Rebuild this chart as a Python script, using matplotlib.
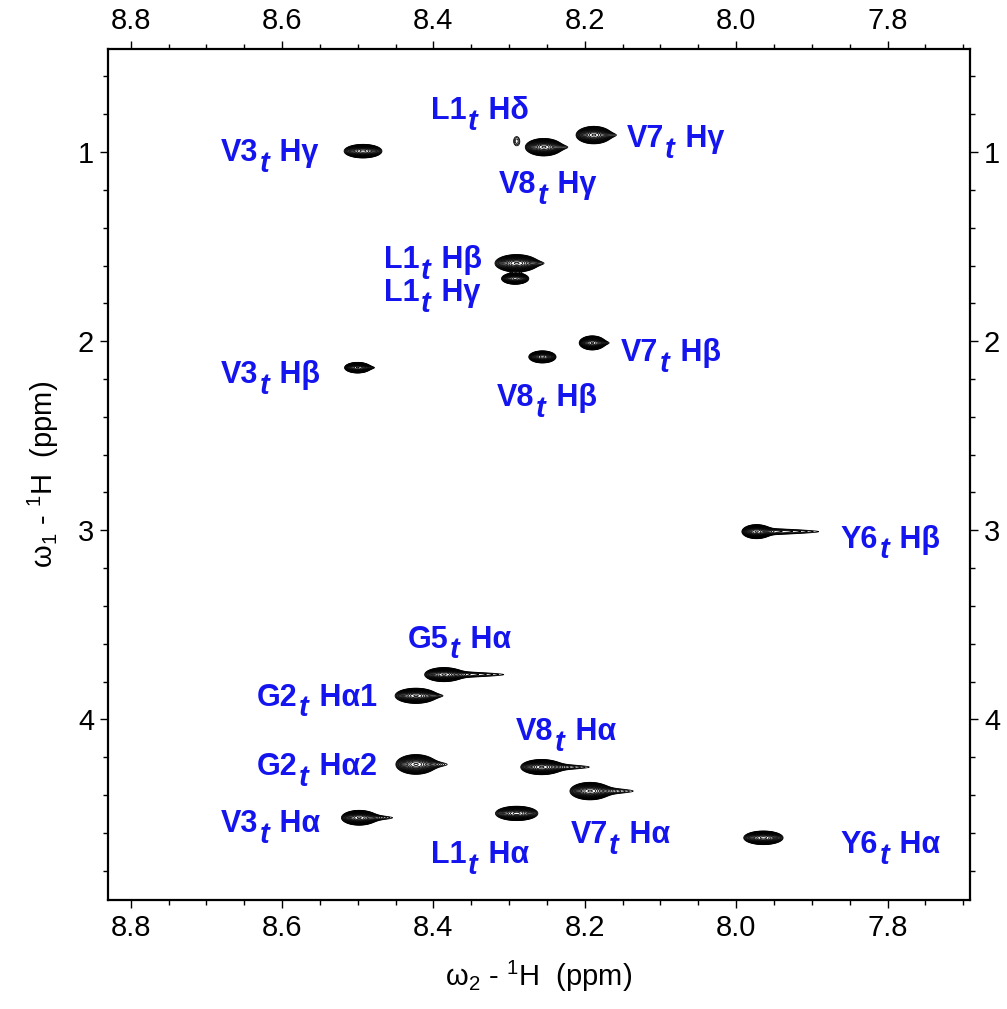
import numpy as np
import matplotlib.pyplot as plt
from matplotlib.ticker import MultipleLocator

plt.rcParams['font.family'] = ['Liberation Sans', 'DejaVu Sans']
plt.rcParams['mathtext.fontset'] = 'custom'
plt.rcParams['mathtext.rm'] = 'Liberation Sans'
plt.rcParams['mathtext.it'] = 'Liberation Sans:italic'
plt.rcParams['mathtext.bf'] = 'Liberation Sans:bold'

# peak list (TOCSY strip, amide region)
residue = ['V3', 'L1', 'V8', 'V7', 'L1', 'L1', 'V7', 'V8', 'V3', 'Y6',
           'G5', 'G2', 'G2', 'V8', 'V7', 'V3', 'L1', 'Y6']
atom = ['Hγ', 'Hδ', 'Hγ', 'Hγ', 'Hβ', 'Hγ', 'Hβ', 'Hβ', 'Hβ', 'Hβ',
        'Hα', 'Hα1', 'Hα2', 'Hα', 'Hα', 'Hα', 'Hα', 'Hα']
w2_ppm = [8.493, 8.290, 8.254, 8.188, 8.290, 8.292, 8.190, 8.256, 8.500, 7.973,
          8.386, 8.423, 8.423, 8.257, 8.193, 8.498, 8.290, 7.964]
w1_ppm = [0.995, 0.942, 0.974, 0.910, 1.588, 1.669, 2.009, 2.083, 2.140, 3.007,
          3.763, 3.875, 4.238, 4.252, 4.379, 4.520, 4.497, 4.626]
intensity = [1.0, 0.08, 1.0, 1.0, 1.0, 1.0, 1.0, 1.0, 1.0, 1.0,
             1.0, 1.0, 1.0, 1.0, 1.0, 1.0, 1.0, 1.0]
# half widths (ppm) of the lowest contour: core in w2, tail toward low w2, width in w1
core_w2 = [0.025, 0.004, 0.024, 0.023, 0.028, 0.018, 0.017, 0.018, 0.017, 0.019,
           0.025, 0.027, 0.026, 0.027, 0.026, 0.023, 0.028, 0.026]
tail_w2 = [0.0, 0.0, 0.030, 0.028, 0.034, 0.0, 0.021, 0.0, 0.021, 0.082,
           0.079, 0.034, 0.041, 0.063, 0.057, 0.044, 0.0, 0.0]
half_w1 = [0.036, 0.024, 0.046, 0.046, 0.046, 0.030, 0.037, 0.032, 0.028, 0.037,
           0.037, 0.040, 0.052, 0.040, 0.046, 0.039, 0.038, 0.036]

# label anchors (left, baseline) in ppm
label_w2 = [8.681, 8.403, 8.314, 8.145, 8.465, 8.465, 8.152, 8.316, 8.681, 7.862,
            8.434, 8.633, 8.633, 8.291, 8.219, 8.681, 8.403, 7.862]
label_w1 = [1.048, 0.826, 1.217, 0.974, 1.613, 1.787, 2.104, 2.342, 2.220, 3.092,
            3.620, 3.927, 4.296, 4.109, 4.656, 4.597, 4.761, 4.708]

blue = '#1414ee'
t0 = 0.05

x = np.linspace(7.68, 8.84, 1800)
y = np.linspace(0.44, 4.97, 2800)
Z = np.zeros((len(y), len(x)))

for i in range(len(w2_ppm)):
    x0, y0, a = w2_ppm[i], w1_ppm[i], intensity[i]
    ix = np.where(np.abs(x - x0) < 0.16)[0]
    iy = np.where(np.abs(y - y0) < 0.12)[0]
    xs = x[ix][None, :]
    ys = y[iy][:, None]
    k = np.sqrt(2 * np.log(a / t0)) if a > t0 * 1.5 else 0.97
    sx = core_w2[i] / k
    sy = half_w1[i] / k
    core = a * np.exp(-0.5 * ((xs - x0) / sx) ** 2) * np.exp(-0.5 * ((ys - y0) / sy) ** 2)
    if tail_w2[i] > 0:
        st = tail_w2[i] / np.sqrt(2 * np.log(0.15 / t0))
        dx = x0 - xs
        sxt = np.where(dx > 0, st, sx)
        syt = sy * np.clip(1 - 0.45 * np.clip(dx, 0, None) / tail_w2[i], 0.35, 1) * 0.85
        core = core + 0.15 * a * np.exp(-0.5 * (dx / sxt) ** 2) * np.exp(-0.5 * ((ys - y0) / syt) ** 2)
    Z[np.ix_(iy, ix)] += core

levels = t0 * 1.2 ** np.arange(18)

fig = plt.figure(figsize=(10.07, 10.09), dpi=100)
ax = fig.add_axes([0.1072, 0.108, 0.8561, 0.8434])
ax.contour(x, y, Z, levels=levels, colors='black', linewidths=0.6)

ax.set_xlim(8.83, 7.691)
ax.set_ylim(4.955, 0.455)

ax.xaxis.set_major_locator(MultipleLocator(0.2))
ax.xaxis.set_minor_locator(MultipleLocator(0.05))
ax.yaxis.set_major_locator(MultipleLocator(1))
ax.yaxis.set_minor_locator(MultipleLocator(0.2))
ax.xaxis.set_major_formatter(plt.FormatStrFormatter('%.1f'))
ax.yaxis.set_major_formatter(plt.FormatStrFormatter('%d'))
ax.tick_params(which='both', direction='out', top=True, right=True,
               labeltop=True, labelright=True, width=1.0, labelsize=21, pad=4)
ax.tick_params(which='major', length=6)
ax.tick_params(which='minor', length=3.5)
for s in ax.spines.values():
    s.set_linewidth(1.6)

ax.set_xlabel('ω$_2$ - $^1$H  (ppm)', fontsize=21, labelpad=12)
ax.set_ylabel('ω$_1$ - $^1$H  (ppm)', fontsize=21, labelpad=12)

for i in range(len(residue)):
    t1 = ax.text(label_w2[i], label_w1[i], residue[i], color=blue, fontsize=22,
                 fontweight='bold', ha='left', va='baseline')
    t2 = ax.annotate('t', xy=(1, 0), xycoords=t1, xytext=(1, -7),
                     textcoords='offset points', color=blue, fontsize=21,
                     fontweight='bold', fontstyle='italic', ha='left', va='bottom')
    ax.annotate(' ' + atom[i], xy=(1, 0), xycoords=(t2, t1), xytext=(1.5, 0),
                textcoords='offset points', color=blue, fontsize=22,
                fontweight='bold', ha='left', va='bottom')

fig.savefig('out.png', dpi=100)
